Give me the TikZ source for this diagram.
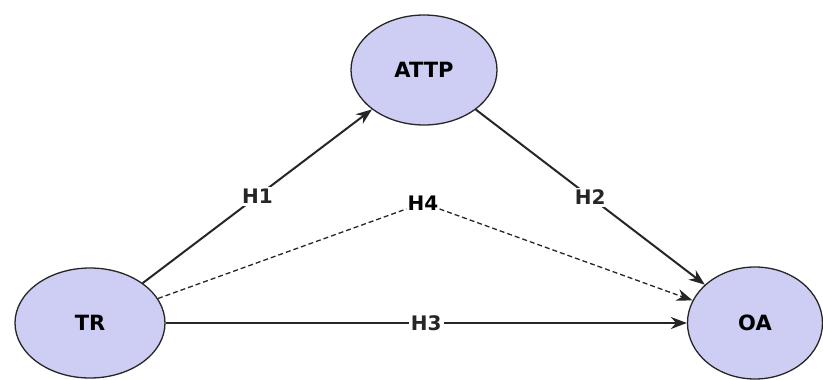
\documentclass[tikz,border=0pt]{standalone}
\usepackage{fontspec}
\setmainfont{DejaVu Sans}
\usetikzlibrary{shapes.geometric,arrows.meta}
\definecolor{construct}{RGB}{206,206,245}
\tikzset{
  latent/.style={ellipse, draw=black!85, line width=1.3pt, fill=construct,
    inner sep=0pt, font=\fontsize{21}{25}\selectfont\bfseries},
  path/.style={line width=2pt, black!85, -{Stealth[length=16pt,width=12pt]}},
  hyp/.style={fill=white, inner sep=2pt, font=\fontsize{20}{24}\selectfont\bfseries}
}
\begin{document}
\begin{tikzpicture}[x=1pt,y=-1pt]
\useasboundingbox (0,0) rectangle (823,380);

\node[latent, minimum width=146pt, minimum height=110pt] (attp) at (424,70) {ATTP};
\node[latent, minimum width=150pt, minimum height=110pt] (tr) at (90,323) {TR};
\node[latent, minimum width=135pt, minimum height=112pt] (oa) at (755,323) {OA};

\draw[path] (tr) -- node[hyp] (h1) {H1} (attp);
\draw[path] (attp) -- node[hyp] (h2) {H2} (oa);
\draw[path] (tr) -- node[hyp] (h3) {H3} (oa);

\node[hyp, fill=none, inner sep=1pt] (h4) at (423,203) {H4};
\draw[line width=1.3pt, black!85, dash pattern=on 5pt off 3pt,
  -{Stealth[length=16pt,width=12pt]}] (tr) -- (h4) -- (oa);
\end{tikzpicture}
\end{document}
